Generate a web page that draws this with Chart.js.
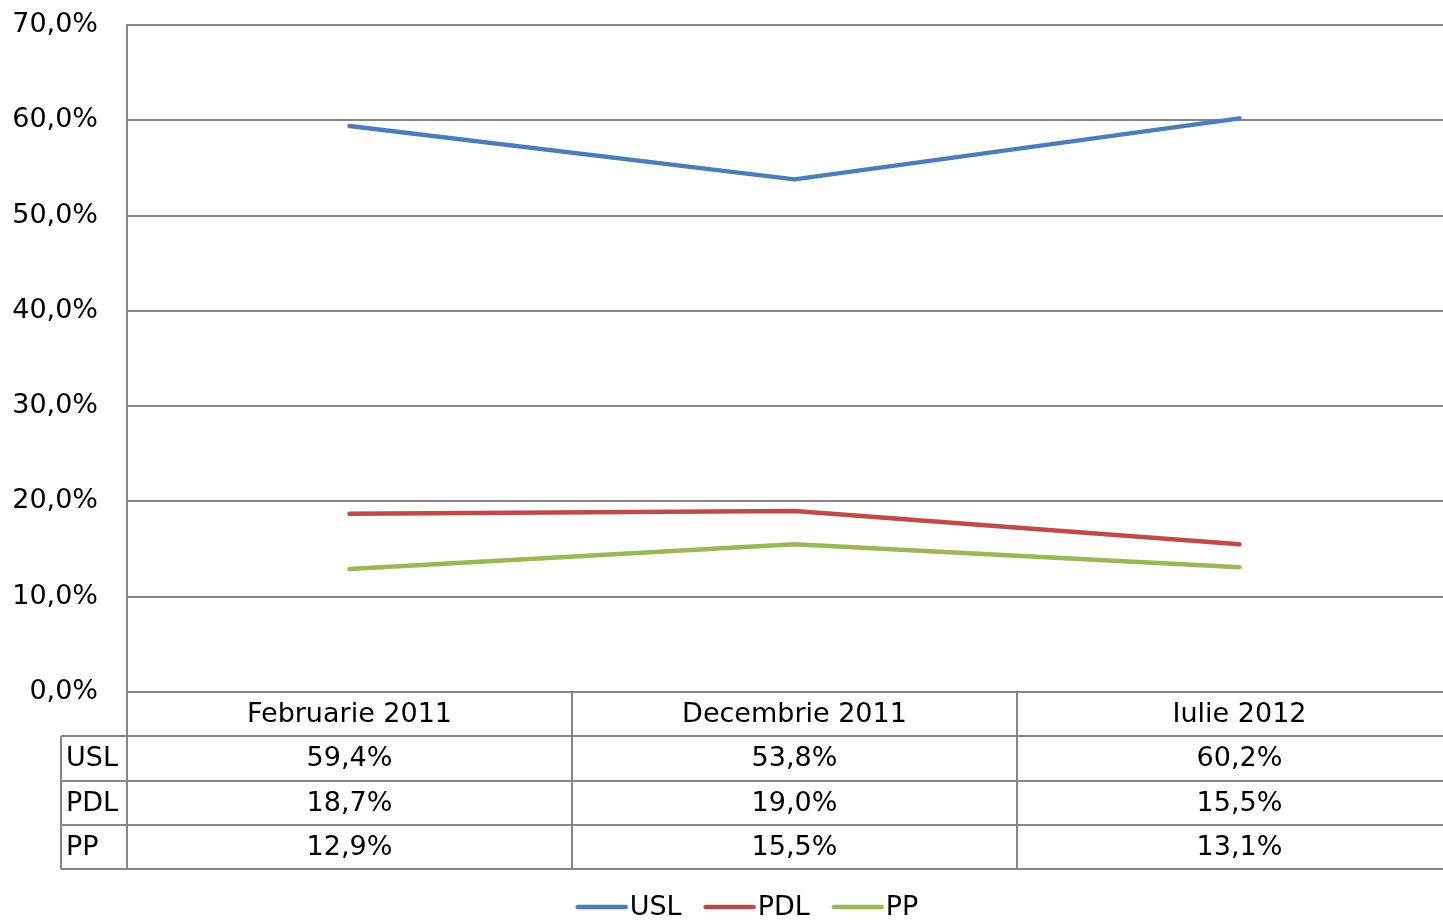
<!DOCTYPE html>
<html>
<head>
<meta charset="utf-8">
<script src="https://cdn.jsdelivr.net/npm/chart.js@4.4.1/dist/chart.umd.min.js"></script>
<style>
  html, body { margin: 0; padding: 0; background: #fff; overflow: hidden; }
  #wrap { width: 1494px; height: 929px; }
</style>
</head>
<body>
<div id="wrap"><canvas id="chartSondaj" width="1494" height="929"></canvas></div>
<script>
const categories = ['Februarie 2011', 'Decembrie 2011', 'Iulie 2012']
const seriesNames = ['USL', 'PDL', 'PP']
const usl = [59.4, 53.8, 60.2]
const pdl = [18.7, 19.0, 15.5]
const pp = [12.9, 15.5, 13.1]
const seriesColors = ['#4a7ebb', '#be4b48', '#98b954']

const FONT = 'DejaVu Sans'
const GRID = '#868686'

const fmt = v => Number(v).toFixed(1).replace('.', ',') + '%'

const datasets = [usl, pdl, pp].map((vals, i) => ({
  label: seriesNames[i],
  data: vals,
  borderColor: seriesColors[i],
  backgroundColor: seriesColors[i],
  borderWidth: 4.5,
  borderCapStyle: 'round',
  borderJoinStyle: 'round',
  pointRadius: 0,
  tension: 0
}))

// data table under the plot plus the legend row, drawn from the same arrays
const dataTable = {
  id: 'dataTable',
  afterDraw(chart) {
    const ctx = chart.ctx
    const x = chart.scales.x
    const area = chart.chartArea
    const top = area.bottom
    const rowH = 44.3
    const left = area.left
    const firstCol = 61
    const right = area.right
    const nRows = seriesNames.length + 1
    const bottom = top + rowH * nRows

    ctx.save()
    ctx.strokeStyle = GRID
    ctx.lineWidth = 2
    ctx.beginPath()
    for (let r = 1; r <= nRows; r++) {
      const y = Math.round(top + rowH * r)
      ctx.moveTo(firstCol, y)
      ctx.lineTo(right, y)
    }
    ctx.moveTo(left, top)
    ctx.lineTo(left, bottom)
    ctx.moveTo(firstCol, top + rowH)
    ctx.lineTo(firstCol, bottom)
    for (let i = 1; i < categories.length; i++) {
      const bx = Math.round((x.getPixelForValue(i - 1) + x.getPixelForValue(i)) / 2)
      ctx.moveTo(bx, top)
      ctx.lineTo(bx, bottom)
    }
    ctx.stroke()

    ctx.fillStyle = '#000'
    ctx.font = '27px "' + FONT + '"'
    ctx.textBaseline = 'middle'
    ctx.textAlign = 'center'
    categories.forEach((c, i) => {
      ctx.fillText(c, x.getPixelForValue(i), top + rowH / 2 + 1)
    })
    const all = [usl, pdl, pp]
    seriesNames.forEach((name, r) => {
      const cy = top + rowH * (r + 1) + rowH / 2 + 1
      ctx.textAlign = 'left'
      ctx.fillText(name, firstCol + 5, cy)
      ctx.textAlign = 'center'
      all[r].forEach((v, i) => ctx.fillText(fmt(v), x.getPixelForValue(i), cy))
    })

    // legend
    const sample = 50, gapTxt = 4, gapItem = 22
    const widths = seriesNames.map(n => ctx.measureText(n).width)
    const total = widths.reduce((a, w) => a + sample + gapTxt + w, 0) + gapItem * (seriesNames.length - 1)
    let lx = 747 - total / 2
    const ly = 907
    ctx.textAlign = 'left'
    ctx.lineCap = 'round'
    ctx.lineWidth = 4.5
    seriesNames.forEach((n, i) => {
      ctx.strokeStyle = seriesColors[i]
      ctx.beginPath()
      ctx.moveTo(lx + 2, ly)
      ctx.lineTo(lx + sample, ly)
      ctx.stroke()
      ctx.fillText(n, lx + sample + gapTxt, ly + 1)
      lx += sample + gapTxt + widths[i] + gapItem
    })
    ctx.restore()
  }
}

new Chart(document.getElementById('chartSondaj'), {
  type: 'line',
  data: { labels: categories, datasets: datasets },
  options: {
    responsive: false,
    animation: false,
    layout: { padding: { top: 25, left: 0, right: 32, bottom: 59 } },
    scales: {
      x: {
        offset: true,
        ticks: { display: false },
        grid: { display: false },
        border: { display: false },
        afterFit: s => { s.height = 178 }
      },
      y: {
        min: 0,
        max: 70,
        ticks: {
          stepSize: 10,
          padding: 0,
          color: '#000',
          font: { family: FONT, size: 27 },
          callback: v => fmt(v)
        },
        grid: { color: GRID, lineWidth: 2, drawTicks: true, tickLength: 29, tickColor: 'rgba(0,0,0,0)' },
        border: { color: GRID, width: 2 },
        afterFit: s => { s.width = 127 }
      }
    },
    plugins: {
      tooltip: { enabled: false },
      legend: { display: false }
    }
  },
  plugins: [dataTable]
})
</script>
</body>
</html>
